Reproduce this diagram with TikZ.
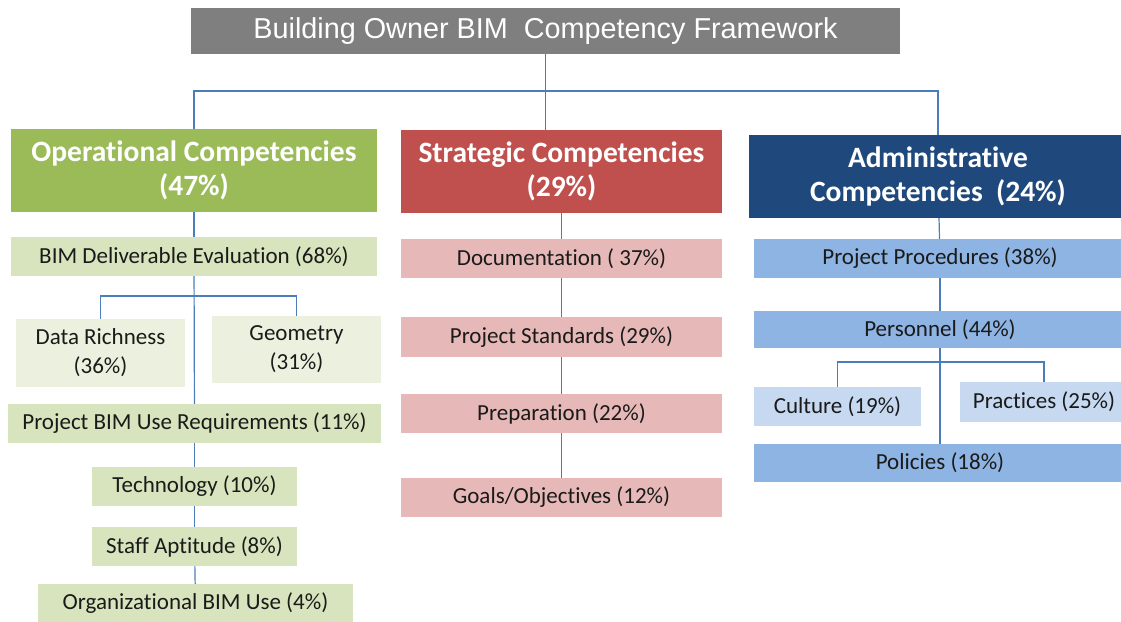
\documentclass[tikz,border=0pt]{standalone}
\usepackage{fontspec}
\setmainfont{Carlito}[Ligatures={NoCommon,NoRequired,NoContextual}, Contextuals=NoAlternate]
\newfontfamily\titlefont{Liberation Sans}
\usepackage{tikz}
\usetikzlibrary{positioning}

\definecolor{titlegray}{HTML}{7F7F7F}
\definecolor{opgreen}{HTML}{9BBB59}
\definecolor{opsubgreen}{HTML}{D7E4BD}
\definecolor{opleafgreen}{HTML}{EBF1DE}
\definecolor{stred}{HTML}{C0504D}
\definecolor{stsubred}{HTML}{E6B9B8}
\definecolor{adblue}{HTML}{1F497D}
\definecolor{adsubblue}{HTML}{8EB4E3}
\definecolor{adleafblue}{HTML}{C6D9F1}
\definecolor{linkblue}{HTML}{4A7EBB}
\definecolor{textdark}{HTML}{1A1A1A}

\begin{document}
\begin{tikzpicture}[
    x=1pt, y=-1pt,
    titlebox/.style={rectangle, fill=titlegray, text=white, inner sep=0pt, minimum width=709pt, minimum height=46pt, font=\titlefont\fontsize{28.8}{32}\selectfont},
    head/.style={rectangle, inner sep=0pt, minimum height=83pt, align=center, text=white, font=\fontsize{29.5}{34}\selectfont\bfseries},
    item/.style={rectangle, inner sep=0pt, minimum height=39pt, align=center, text=textdark, font=\fontsize{23}{29}\selectfont},
    link/.style={draw=linkblue, line width=1.2pt}
]
\useasboundingbox (0,0) rectangle (1121,621);

% Title
\node[titlebox] (title) at (545.5, 31) {Building Owner BIM~ Competency Framework};

% Headers
\node[head, fill=opgreen, minimum width=366pt] (oper) at (194, 170.5) {Operational Competencies\\(47\%)};
\node[head, fill=stred, minimum width=321pt] (strat) at (561.5, 171.5) {Strategic Competencies\\(29\%)};
\node[head, fill=adblue, minimum width=378pt] (admin) at (938, 176.5) {Administrative\\Competencies~ (24\%)};

% Operational column
\node[item, fill=opsubgreen, minimum width=366pt] (deliv) at (194, 256.5) {BIM Deliverable Evaluation (68\%)};
\node[item, fill=opleafgreen, minimum width=169pt, minimum height=68pt] (richness) at (100.5, 353) {Data Richness\\(36\%)};
\node[item, fill=opleafgreen, minimum width=169pt, minimum height=67pt] (geometry) at (296.5, 349.5) {Geometry\\(31\%)};
\node[item, fill=opsubgreen, minimum width=373pt] (bimreq) at (194.5, 423.5) {Project BIM Use Requirements (11\%)};
\node[item, fill=opsubgreen, minimum width=205pt] (tech) at (194.5, 486.5) {Technology (10\%)};
\node[item, fill=opsubgreen, minimum width=205pt] (staff) at (194.5, 546.5) {Staff Aptitude (8\%)};
\node[item, fill=opsubgreen, minimum width=315pt, minimum height=38pt] (orguse) at (195.5, 603) {Organizational BIM Use (4\%)};

% Strategic column
\node[item, fill=stsubred, minimum width=321pt] (doc) at (561.5, 258.5) {Documentation ( 37\%)};
\node[item, fill=stsubred, minimum width=321pt, minimum height=40pt] (standards) at (561.5, 337) {Project Standards (29\%)};
\node[item, fill=stsubred, minimum width=321pt] (prep) at (561.5, 413.5) {Preparation (22\%)};
\node[item, fill=stsubred, minimum width=321pt] (goals) at (561.5, 497.5) {Goals/Objectives (12\%)};

% Administrative column
\node[item, fill=adsubblue, minimum width=372pt] (procedures) at (940, 258.5) {Project Procedures (38\%)};
\node[item, fill=adsubblue, minimum width=372pt, minimum height=37pt] (personnel) at (940, 329.5) {Personnel (44\%)};
\node[item, fill=adleafblue, minimum width=167pt] (culture) at (837.5, 406.5) {Culture (19\%)};
\node[item, fill=adleafblue, minimum width=168pt, minimum height=40pt] (practices) at (1044, 402) {Practices (25\%)};
\node[item, fill=adsubblue, minimum width=372pt, minimum height=38pt] (policies) at (940, 463) {Policies (18\%)};

% Links - top
\coordinate (bar) at (546, 91);
\draw[link] (title.south) -- (title.south |- strat.north);
\draw[link] (oper.north) |- (bar) -| (admin.north);

% Links - operational
\coordinate (fork) at (195, 296);
\draw[link] (oper) -- (deliv);
\draw[link] (deliv) -- (bimreq);
\draw[link] (richness.north) |- (fork) -| (geometry.north);
\draw[link] (bimreq) -- (tech);
\draw[link] (tech) -- (staff);
\draw[link] (staff) -- (orguse);

% Links - strategic
\draw[link] (strat) -- (doc);
\draw[link] (doc) -- (standards);
\draw[link] (standards) -- (prep);
\draw[link] (prep) -- (goals);

% Links - administrative
\coordinate (pfork) at (940, 362);
\draw[link] (admin) -- (procedures);
\draw[link] (procedures) -- (personnel);
\draw[link] (personnel) -- (policies);
\draw[link] (culture.north) |- (pfork) -| (practices.north);

\end{tikzpicture}
\end{document}
